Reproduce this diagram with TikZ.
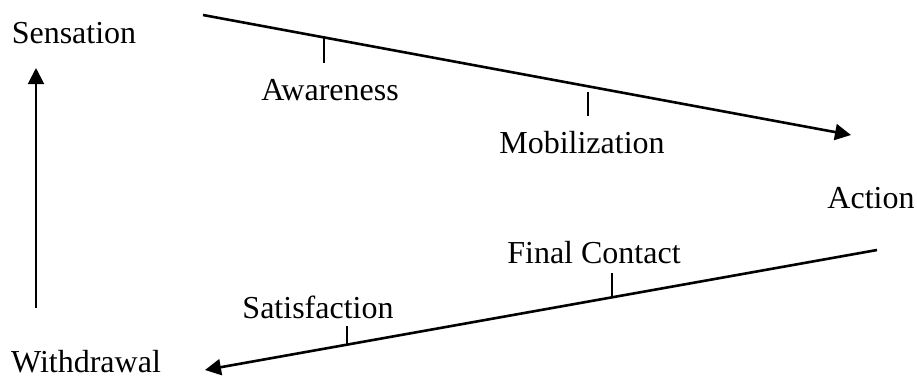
\documentclass[tikz,border=0pt]{standalone}
\usepackage{fontspec}
\setmainfont{Liberation Serif}
\usetikzlibrary{arrows.meta}
\tikzset{>={Triangle[length=8pt,width=8pt]},
phase/.style={anchor=base,inner sep=0pt,font=\fontsize{16}{19}\selectfont},
cycleline/.style={->,line width=1.3pt},
notch/.style={line width=1pt}}

\begin{document}
\begin{tikzpicture}[x=0.5pt,y=-0.5pt]
\useasboundingbox (0,0) rectangle (917,377);
% phases of the contact cycle
\node[phase] (S) at (74,43) {Sensation};
\node[phase] (A) at (330,100) {Awareness};
\node[phase] (M) at (582,153) {Mobilization};
\node[phase] (C) at (871,208) {Action};
\node[phase] (F) at (594,263) {Final Contact};
\node[phase] (T) at (318,318) {Satisfaction};
\node[phase] (W) at (86,372) {Withdrawal};
% ends of the arrows
\coordinate (s1) at (203,15);
\coordinate (s2) at (851,135);
\coordinate (c1) at (877,250);
\coordinate (c2) at (205,370);
\coordinate (w1) at (36,308);
\coordinate (w2) at (36,68);
\draw[cycleline] (s1) -- (s2);
\draw[cycleline] (c1) -- (c2);
\draw[->,line width=1pt] (w1) -- (w2);
% marks on the lines
\draw[notch] (324,38) -- (324,63);
\draw[notch] (588,92) -- (588,116);
\draw[notch] (612,297) -- (612,273);
\draw[notch] (347,344) -- (347,326);
\end{tikzpicture}
\end{document}
